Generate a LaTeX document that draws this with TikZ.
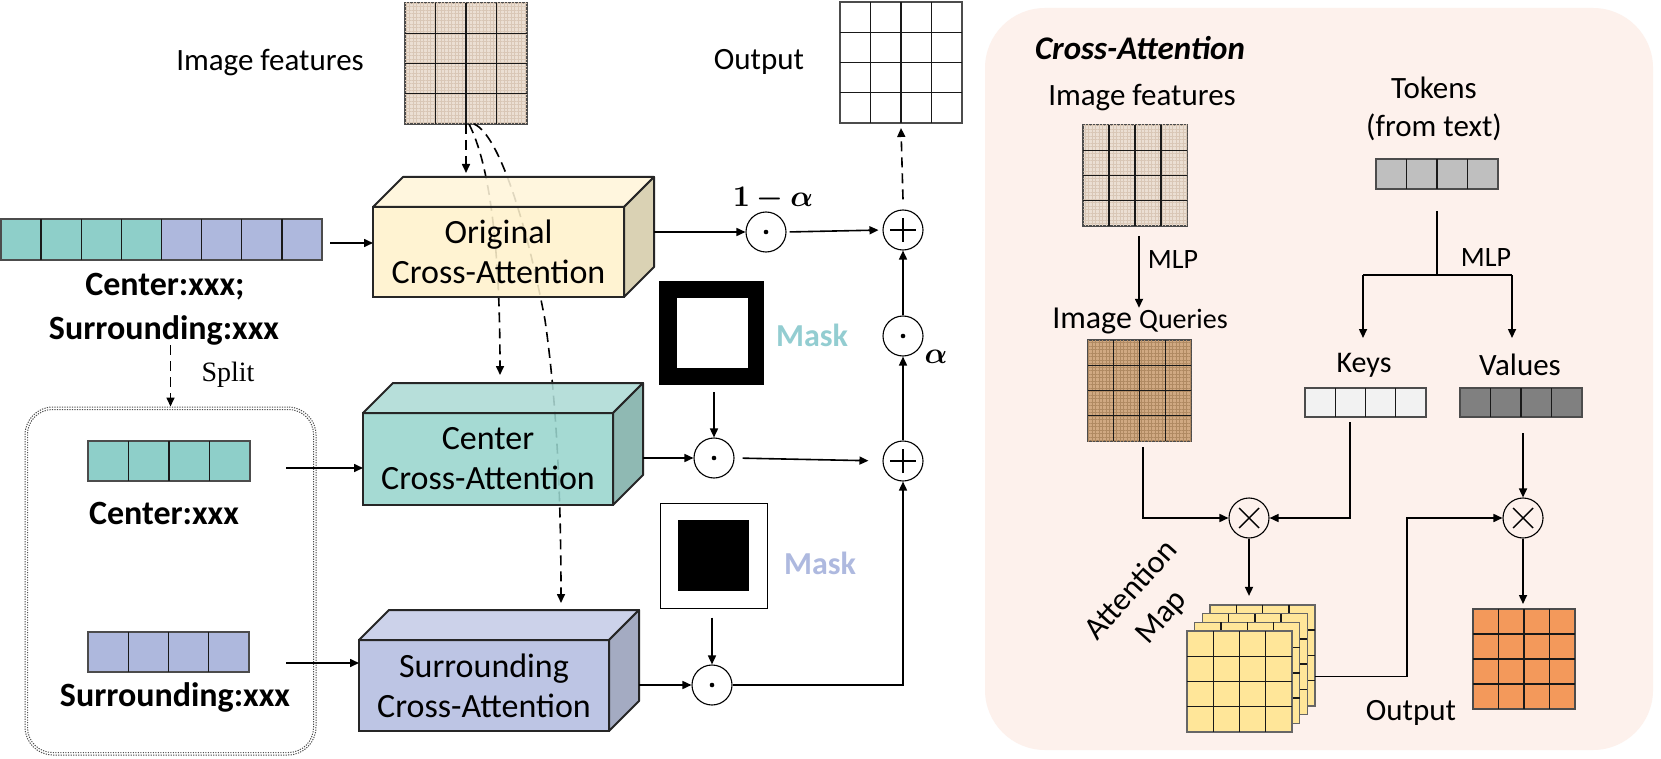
\documentclass[tikz,border=0pt]{standalone}
\usepackage{fontspec}
\setmainfont{Carlito}
\newfontfamily\timesf{Liberation Serif}
\usepackage{bm}
\usepackage{graphicx}
\usetikzlibrary{calc,arrows.meta,patterns.meta}
\definecolor{tealc}{HTML}{8ECFC9}
\definecolor{lavc}{HTML}{AEB8DD}
\definecolor{imgfc}{HTML}{EBDFD3}
\definecolor{imgft}{HTML}{D9C7B6}
\definecolor{queryc}{HTML}{D0A982}
\definecolor{queryt}{HTML}{B08A62}
\definecolor{ofront}{HTML}{FFF2CC}
\definecolor{otop}{HTML}{FFF5DA}
\definecolor{oside}{HTML}{D5CCAA}
\definecolor{cfront}{HTML}{99D5CE}
\definecolor{ctop}{HTML}{AEDBD6}
\definecolor{cside}{HTML}{80B0A9}
\definecolor{sfront}{HTML}{B4BEE1}
\definecolor{stopc}{HTML}{C5CCE8}
\definecolor{sside}{HTML}{98A0BA}
\definecolor{maskteal}{HTML}{93CDD1}
\definecolor{masklav}{HTML}{AEB9DF}
\definecolor{panelc}{HTML}{FDF1EC}
\definecolor{tokc}{HTML}{BFBFBF}
\definecolor{keyc}{HTML}{F2F2F2}
\definecolor{valc}{HTML}{808080}
\definecolor{attc}{HTML}{FFE699}
\definecolor{outc}{HTML}{F3995B}
\newcommand{\glines}[1]{\foreach \k in {1,2,3}{\draw[gridl] ($(#1.north west)!{\k/4}!(#1.north east)$) -- ($(#1.south west)!{\k/4}!(#1.south east)$); \draw[gridl] ($(#1.north west)!{\k/4}!(#1.south west)$) -- ($(#1.north east)!{\k/4}!(#1.south east)$);}}
\newcommand{\blines}[3]{\foreach \k in {#3}{\draw[gridl] ($(#1.north west)!{\k/#2}!(#1.north east)$) -- ($(#1.south west)!{\k/#2}!(#1.south east)$);}}
\newcommand{\mkcube}[9]{%
 \node[cubefront, fill=#7, minimum width=#4pt, minimum height=#5pt] (#1) at (#2,#3) {#6};
 \filldraw[cubeedge, fill=#8] (#1.north west) -- ++(30,-30) -- ($(#1.north east)+(30,-30)$) -- (#1.north east) -- cycle;
 \filldraw[cubeedge, fill=#9] (#1.north east) -- ++(30,-30) -- ($(#1.south east)+(30,-30)$) -- (#1.south east) -- cycle;
 \coordinate (#1-back) at ($(#1.east)+(30,0)$);}
\begin{document}
\begin{tikzpicture}[x=1pt,y=-1pt,
 arr/.style={line width=1.6pt, -{Triangle[length=9pt,width=8pt]}},
 darr/.style={arr, dash pattern=on 10pt off 6pt},
 lbl/.style={font=\fontsize{31}{37}\selectfont, inner sep=0},
 blbl/.style={font=\bfseries\fontsize{34}{40}\selectfont, inner sep=0},
 cubefront/.style={draw=black!85, line width=2pt, align=center, font=\fontsize{34}{40}\selectfont, inner sep=0, outer sep=0, fill opacity=0.88, text opacity=1},
 cubeedge/.style={draw=black!85, line width=2pt, line join=round, fill opacity=0.88},
 gridbox/.style={draw=black!70, line width=1.5pt, inner sep=0, outer sep=0},
 texture/.style={postaction={pattern={Hatch[angle=0,distance=3.5pt,line width=0.5pt]}, pattern color=#1}},
 gridl/.style={draw=black!90, line width=1.4pt},
 opc/.style={circle, draw, line width=1.1pt, minimum size=40pt, inner sep=0, fill=white},
 odot/.style={opc, path picture={\fill[black] (path picture bounding box.center) circle (2.3pt);}},
 oplus/.style={opc, path picture={\draw[black, line width=2.2pt] ([xshift=-13pt]path picture bounding box.center) -- ([xshift=13pt]path picture bounding box.center); \draw[black, line width=2.2pt] ([yshift=-12pt]path picture bounding box.center) -- ([yshift=12pt]path picture bounding box.center);}},
 otimes/.style={opc, fill=panelc, path picture={\draw[black, line width=1.4pt] ([shift={(-10pt,-10pt)}]path picture bounding box.center) -- ([shift={(10pt,10pt)}]path picture bounding box.center); \draw[black, line width=1.4pt] ([shift={(-10pt,10pt)}]path picture bounding box.center) -- ([shift={(10pt,-10pt)}]path picture bounding box.center);}},
 dotl/.style={draw=black!70, line width=1pt, dash pattern=on 1.2pt off 1.3pt, rounded corners=28pt},
 masklbl/.style={font=\bfseries\fontsize{32}{38}\selectfont, inner sep=0}]
\useasboundingbox (0,0) rectangle (1661,759);
\fill[white] (0,0) rectangle (1661,759);
% ---------- right panel background
\node[fill=panelc, rounded corners=60pt, minimum width=668pt, minimum height=742pt, inner sep=0] (panel) at (1319,379) {};
% ---------- left: inputs
\node[lbl] (lblimg) at (270,63) {Image features};
\node[gridbox, fill=imgfc, texture=imgft, minimum width=122pt, minimum height=121pt] (imgf) at (466,63.5) {};
\glines{imgf}
\node[lbl] (lblout) at (759,62) {Output};
\node[gridbox, fill=white, minimum width=122pt, minimum height=121pt] (out1) at (901,62.5) {};
\glines{out1}
\node[gridbox, fill=tealc, minimum width=321pt, minimum height=41pt] (tok8) at (161.5,239.5) {};
\fill[lavc] (tok8.north) rectangle (tok8.south east);
\draw[gridbox] (tok8.north west) rectangle (tok8.south east);
\blines{tok8}{8}{1,...,7}
\node[blbl] (tl1) at (165,287) {Center:xxx;};
\node[blbl] (tl2) at (164,330) {Surrounding:xxx};
% dotted split box (double dotted border)
\node[dotl, minimum width=291pt, minimum height=348pt, inner sep=0] (dotbox) at (170.5,581) {};
\draw[dotl, rounded corners=25pt] ([shift={(3pt,-3pt)}]dotbox.north west) rectangle ([shift={(-3pt,3pt)}]dotbox.south east);
\draw[darr] (tl2.south -| dotbox.north) -- (dotbox.north);
\node[font=\timesf\fontsize{28}{33}\selectfont, inner sep=0] (split) at (228,375) {Split};
\node[gridbox, fill=tealc, minimum width=162pt, minimum height=40pt] (cbar) at (169,461) {};
\blines{cbar}{4}{1,2,3}
\node[blbl] (cl) at (164,513) {Center:xxx};
\node[gridbox, fill=lavc, minimum width=161pt, minimum height=40pt] (sbar) at (168.5,652) {};
\blines{sbar}{4}{1,2,3}
\node[blbl] (sl) at (175,697) {Surrounding:xxx};
% ---------- dashed feature paths (behind cubes)
\coordinate (c2end) at (500,375);
\coordinate (c3end) at (561,603);
\draw[darr] (imgf.south) -- ++(0,49);
\draw[darr] ([xshift=3pt]imgf.south) .. controls (490,165) and (500,250) .. (c2end);
\draw[darr] ([xshift=8pt]imgf.south) .. controls (500,135) and (528,230) .. (545,320) .. controls (555,390) and (561,480) .. (c3end);
% ---------- cubes
\mkcube{ocube}{498.5}{252}{251}{90}{Original\\Cross-Attention}{ofront}{otop}{oside}
\mkcube{ccube}{488}{459}{250}{92}{Center\\Cross-Attention}{cfront}{ctop}{cside}
\mkcube{scube}{484}{685.5}{250}{91}{Surrounding\\Cross-Attention}{sfront}{stopc}{sside}
\draw[arr] ([xshift=8pt,yshift=-3.5pt]tok8.east) coordinate (a1) -- (a1 -| ocube.west);
\draw[arr] ([xshift=36pt,yshift=-7pt]cbar.east) coordinate (a2) -- (a2 -| ccube.west);
\draw[arr] ([xshift=37pt,yshift=-11pt]sbar.east) coordinate (a3) -- (a3 -| scube.west);
% ---------- fusion
\node[odot] (od1) at (766,232) {};
\node[inner sep=0] (oma) at (773,199) {\scalebox{3}{$\bm{1-\alpha}$}};
\node[oplus] (pl1) at (903,230) {};
\draw[arr] (od1 -| ocube-back) -- (od1.west);
\draw[arr, shorten <=3pt, shorten >=4pt] (od1.east) -- (pl1.west);
\draw[darr] ([yshift=10pt]pl1.north) -- ([yshift=-5pt]out1.south);
\node[fill=black, minimum width=105pt, minimum height=104pt, inner sep=0] (m1) at (711.5,333) {};
\node[fill=white, minimum width=71pt, minimum height=70pt, inner sep=0] (m1in) at (712.5,333) {};
\node[masklbl, text=maskteal] (mk1) at (812,335) {Mask};
\node[odot] (od2) at (903,336) {};
\node[inner sep=0] (al) at (936,357) {\scalebox{3}{$\bm{\alpha}$}};
\node[odot] (od3) at (714,458) {};
\node[oplus] (pl2) at (903,461) {};
\draw[arr] (od2.north) -- (pl1.south);
\draw[arr] ([yshift=-7pt]od3 |- m1.south) -- (od3.north);
\draw[arr] (od3 -| ccube-back) -- (od3.west);
\draw[arr, shorten <=8pt, shorten >=14pt] (od3.east) -- (pl2.west);
\draw[arr] (pl2.north) -- (od2.south);
\node[draw=black, line width=1pt, fill=white, minimum width=107pt, minimum height=105pt, inner sep=0] (m2) at (713.5,555.5) {};
\node[fill=black, minimum width=71pt, minimum height=71pt, inner sep=0] (m2in) at (713.5,555.5) {};
\node[masklbl, text=masklav] (mk2) at (820,563) {Mask};
\node[odot] (od4) at (712,685) {};
\draw[arr] ([yshift=-9pt]od4 |- m2.south) -- (od4.north);
\draw[arr] (od4 -| scube-back) -- (od4.west);
\draw[arr] (od4.east) -| (pl2.south);
% ---------- right panel content
\node[font=\bfseries\itshape\fontsize{33}{40}\selectfont, inner sep=0] (title) at (1140,48) {Cross-Attention};
\node[lbl] (rimg) at (1142,98) {Image features};
\node[gridbox, fill=imgfc, texture=imgft, minimum width=104pt, minimum height=101pt] (imf2) at (1135,175.5) {};
\glines{imf2}
\node[inner sep=0] (iq) at (1140,321) {\fontsize{32}{38}\selectfont Image \fontsize{28}{34}\selectfont Queries};
\draw[arr] ([xshift=4pt,yshift=-10pt]imf2.south) coordinate (a4) -- (a4 |- iq.north);
\node[font=\fontsize{28}{34}\selectfont, inner sep=0] (mlp1) at (1173,260) {MLP};
\node[gridbox, fill=queryc, texture=queryt, minimum width=103pt, minimum height=101pt] (qg) at (1139.5,390.5) {};
\glines{qg}
\node[lbl] (tokl) at (1434,88) {Tokens};
\node[lbl] (tokl2) at (1434,127) {(from text)};
\node[gridbox, fill=tokc, minimum width=122pt, minimum height=30pt] (tok) at (1437,174) {};
\blines{tok}{4}{1,2,3}
\coordinate (br) at (1437,275);
\coordinate (brl) at (1363,275);
\coordinate (brr) at (1512,275);
\draw[line width=1.6pt] ([yshift=-22pt]tok.south) -- (br);
\draw[line width=1.6pt] (brl) -- (brr);
\node[font=\fontsize{28}{34}\selectfont, inner sep=0] (mlp2) at (1486,258) {MLP};
\node[font=\fontsize{30}{36}\selectfont, inner sep=0] (keyl) at (1364,365) {Keys};
\node[lbl] (vall) at (1520,365) {Values};
\draw[arr] (brl) -- ++(0,63);
\draw[arr] (brr) -- ++(0,63);
\node[gridbox, fill=keyc, minimum width=121pt, minimum height=29pt] (keys) at (1365.5,402.5) {};
\blines{keys}{4}{1,2,3}
\node[gridbox, fill=valc, minimum width=122pt, minimum height=29pt] (vals) at (1521,402.5) {};
\blines{vals}{4}{1,2,3}
\node[otimes] (ot1) at (1249,518) {};
\node[otimes] (ot2) at (1523,518) {};
\draw[arr] ([xshift=3.5pt,yshift=-6pt]qg.south) |- (ot1.west);
\draw[arr] ([xshift=-15.5pt,yshift=-5pt]keys.south) |- (ot1.east);
\draw[arr] ([yshift=-16pt]vals.south -| ot2) -- (ot2.north);
% attention map stack
\foreach \i/\dx/\dy in {4/23.1/-26.1, 3/15.4/-17.4, 2/7.7/-8.7, 1/0/0}{
 \node[gridbox, draw=black!60, fill=attc, minimum width=105pt, minimum height=101pt] (am\i) at (1239.5+\dx,681.5+\dy) {};
 \glines{am\i}
}
\draw[arr] (ot1.south) -- ([yshift=9pt]ot1 |- am4.north);
\node[font=\fontsize{32}{40}\selectfont, align=center, rotate=48, inner sep=0] (attl) at (1147,604) {Attention\\Map};
\node[gridbox, fill=outc, minimum width=102pt, minimum height=100pt] (og) at (1524,659) {};
\glines{og}
\draw[arr] (ot2.south) -- ([yshift=5pt]ot2 |- og.north);
\draw[arr] ([yshift=-21pt]am4.east) -- ++(92,0) |- (ot2.west);
\node[lbl] (outl2) at (1411,713) {Output};
\end{tikzpicture}
\end{document}
